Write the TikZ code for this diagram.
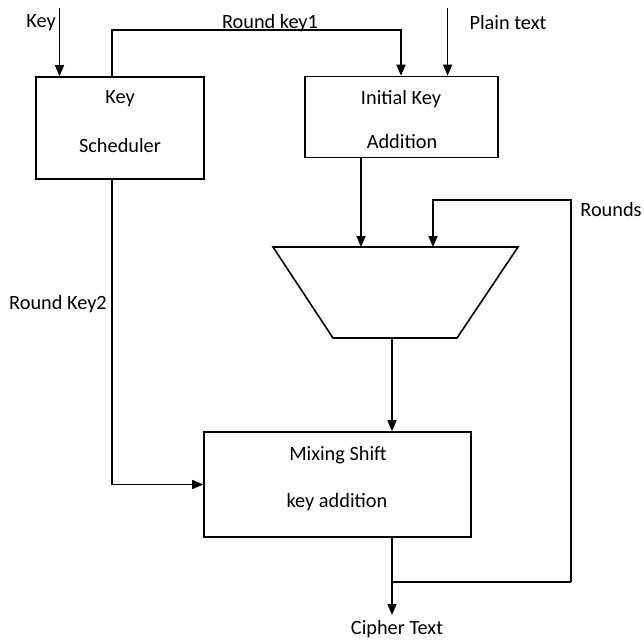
\documentclass[tikz,border=0pt]{standalone}
\usepackage{fontspec}
\setmainfont{Carlito}
\usetikzlibrary{arrows.meta}
\begin{document}
\begin{tikzpicture}[x=1pt,y=-1pt,line width=1.6pt,
  box/.style={draw,rectangle,inner sep=0pt},
  lbl/.style={font=\fontsize{20.3}{24}\selectfont,inner sep=0pt},
  arr/.style={-{Triangle[length=11pt,width=9pt]}}]
\useasboundingbox (0,0) rectangle (644,641);
% boxes
\node[box,minimum width=168pt,minimum height=102pt] (ks) at (120,128) {};
\node[box,minimum width=193pt,minimum height=81pt] (ika) at (401.5,117) {};
\node[box,minimum width=267pt,minimum height=105pt] (mix) at (337.5,484.5) {};
% trapezoid
\coordinate (tl) at (273,247);
\coordinate (tr) at (518,247);
\coordinate (br) at (457,338);
\coordinate (bl) at (333,338);
\draw (tl) -- (tr) -- (br) -- (bl) -- cycle;
% box texts
\node[lbl] (t1) at (120,99) {Key};
\node[lbl] (t2) at (120,146) {Scheduler};
\node[lbl] (t3) at (401,99) {Initial Key};
\node[lbl] (t4) at (402,142) {Addition};
\node[lbl] (t5) at (338,455) {Mixing Shift};
\node[lbl] (t6) at (337,502) {key addition};
% outside labels
\node[lbl] (lkey) at (41,23) {Key};
\node[lbl] (lrk1) at (270,23) {Round key1};
\node[lbl] (lpt) at (508,23) {Plain text};
\node[lbl] (lrounds) at (611,210) {Rounds};
\node[lbl] (lrk2) at (58,304) {Round Key2};
\node[lbl] (lct) at (397,629) {Cipher Text};
% helper coordinates
\coordinate (keyin) at (59.5,8);
\coordinate (ptin) at (447.6,8);
\coordinate (rk1a) at (112,30);
\coordinate (rk1b) at (401,30);
\coordinate (ikaout) at (361,157);
\coordinate (trin) at (361,247);
\coordinate (trin2) at (433,247);
\coordinate (trout) at (392,338);
\coordinate (junc) at (392,582);
\coordinate (loopr) at (571,582);
\coordinate (loopt) at (571,200);
\coordinate (loopl) at (433,200);
\coordinate (ctend) at (392,615);
\coordinate (rk2c) at (112,484.5);
% connectors
\draw[arr] (keyin) -- (keyin |- ks.north);
\draw[arr] (ptin) -- (ptin |- ika.north);
\draw[arr] (rk1a |- ks.north) -- (rk1a) -- (rk1b) -- (rk1b |- ika.north);
\draw[arr] (ikaout) -- (trin);
\draw[arr] (loopr) -- (loopt) -- (loopl) -- (trin2);
\draw[arr] (trout) -- (trout |- mix.north);
\draw[arr] (rk2c |- ks.south) -- (rk2c) -- (mix.west);
\draw[arr] (junc |- mix.south) -- (ctend);
\draw (junc) -- (loopr);
\end{tikzpicture}
\end{document}
